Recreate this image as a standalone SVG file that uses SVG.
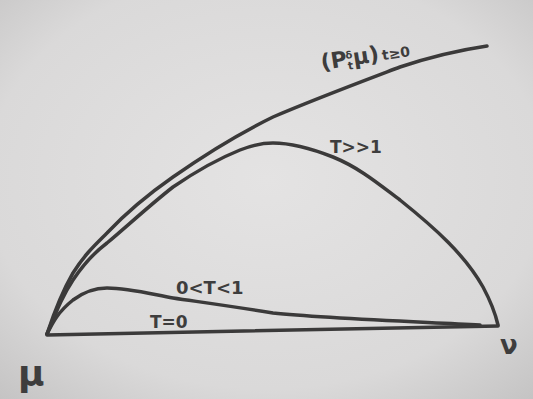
<svg xmlns="http://www.w3.org/2000/svg" width="533" height="399" viewBox="0 0 533 399">
<defs>
<radialGradient id="bg" cx="0.5" cy="0.45" r="0.75">
<stop offset="0" stop-color="#e4e3e3"/>
<stop offset="0.7" stop-color="#dad9d9"/>
<stop offset="1" stop-color="#c4c3c3"/>
</radialGradient>
<style>
.c{fill:none;stroke:#3b3a3a;stroke-width:3.5;stroke-linecap:round;stroke-linejoin:round}
.t{font-family:"DejaVu Sans",sans-serif;font-weight:bold;fill:#3e3d3d}
</style>
</defs>
<rect width="533" height="399" fill="url(#bg)"/>
<g id="connectors">
<path id="top" class="c" d="M47,334 C55,310 62,292 73,273 C85,254 95,245 107,233 C125,214 150,193 173,177 C200,158 230,138 273,117 C310,101 350,86 400,67 C430,57 460,50 487,46"/>
<path id="tlarge" class="c" d="M47,334 C57,310 63,295 73,280 C85,262 95,252 107,243 C125,228 150,205 173,187 C195,172 215,160 240,150 C255,144 265,143 273,143 C290,143 310,148 333,157 C360,168 380,185 400,200 C435,228 465,255 483,287 C490,300 495,312 498,325"/>
<path id="tsmall" class="c" d="M47,334 C53,322 58,312 73,300 C85,291 95,288 107,288 C130,288 155,295 173,298 C200,302 230,306 273,313 C320,318 400,321 480,325"/>
<path id="base" class="c" d="M47,335 L498,326"/>
</g>
<g id="label-top"><text class="t" x="322" y="70" font-size="22" transform="rotate(-9 322 70)">(P<tspan font-size="11" dy="4">t</tspan><tspan font-size="10" dy="-11" dx="-6">δ</tspan><tspan dy="7">μ)</tspan><tspan font-size="14" dy="0" dx="3">t≥0</tspan></text></g>
<g id="label-tlarge"><text class="t" x="330" y="153" font-size="17">T&gt;&gt;1</text></g>
<g id="label-tsmall"><text class="t" x="176" y="294" font-size="18">0&lt;T&lt;1</text></g>
<g id="label-tzero"><text class="t" x="150" y="328" font-size="17">T=0</text></g>
<g id="mu"><text class="t" x="18" y="386" font-size="36" font-weight="normal">μ</text></g>
<g id="nu"><text class="t" x="500" y="354" font-size="26" font-weight="normal">ν</text></g>
</svg>
